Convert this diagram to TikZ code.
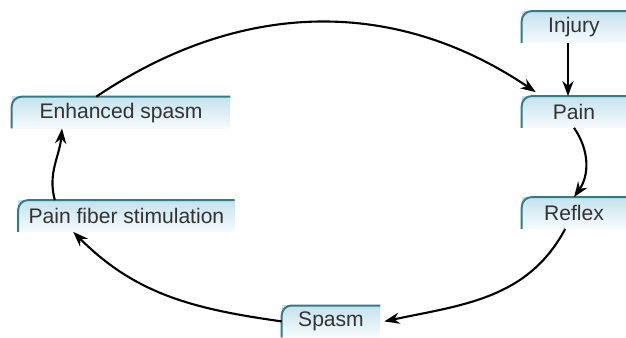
\documentclass[tikz,border=0pt]{standalone}
\usepackage{fontspec}
\setmainfont{Liberation Sans}
\usetikzlibrary{arrows.meta}
\definecolor{boxedge}{HTML}{2E7D8A}
\definecolor{boxfill}{HTML}{C6E2ED}
\definecolor{txt}{HTML}{333333}
\tikzset{
  tag/.style={top color=boxfill,bottom color=boxfill!15!white,minimum height=0.78cm,inner sep=2pt,font=\fontsize{15}{18}\selectfont,text=txt},
  rim/.style={draw=boxedge,line width=1.4pt,rounded corners=7pt},
  arr/.style={-{Stealth[length=3.8mm,width=2.8mm]},line width=1.5pt},
}
\begin{document}
\begin{tikzpicture}
\useasboundingbox (0,0) rectangle (15.65,8.425);
\node[tag,minimum width=2.6cm] (inj) at (14.35,7.75) {Injury};
\node[tag,minimum width=2.6cm] (pain) at (14.35,5.625) {Pain};
\node[tag,minimum width=2.6cm] (refl) at (14.35,3.1) {Reflex};
\node[tag,minimum width=2.45cm] (spas) at (8.275,0.39) {Spasm};
\node[tag,minimum width=5.4cm] (fib) at (3.16,3.025) {Pain fiber stimulation};
\node[tag,minimum width=5.45cm] (enh) at (3.025,5.61) {Enhanced spasm};
\foreach \n in {inj,pain,refl,spas,fib,enh} \draw[rim] (\n.south west) |- (\n.north east);
\draw[arr] ([xshift=-0.62cm]enh.north) to[out=34,in=146] ([xshift=0.35cm,yshift=0.1cm]pain.north west);
\draw[arr] ([xshift=-0.15cm]inj.south) -- ([xshift=-0.15cm]pain.north);
\draw[arr] (pain.south) to[bend left=35] (refl.north);
\draw[arr] ([xshift=-0.22cm]refl.south) to[out=-118,in=12] ([xshift=0.1cm]spas.east);
\draw[arr] (spas.west) to[out=172,in=-45] ([xshift=-1.33cm]fib.south);
\draw[arr] ([xshift=-1.79cm]fib.north) to[out=105,in=-95] ([xshift=-1.475cm]enh.south);
\end{tikzpicture}
\end{document}
